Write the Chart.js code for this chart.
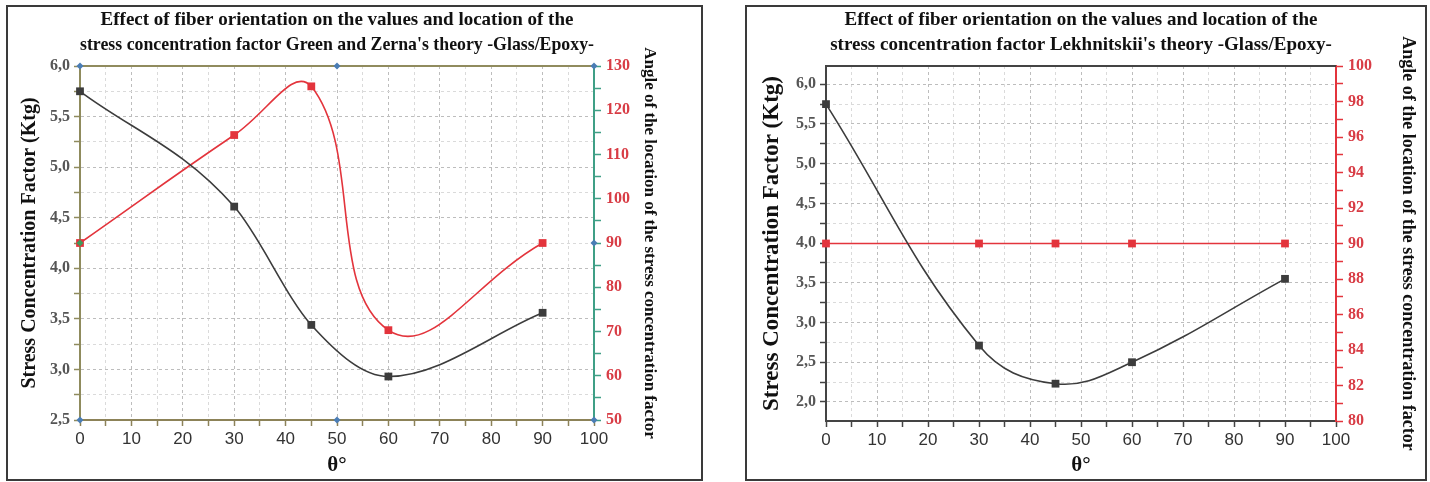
<!DOCTYPE html>
<html>
<head>
<meta charset="utf-8">
<script src="https://cdn.jsdelivr.net/npm/chart.js@4.4.1/dist/chart.umd.min.js"></script>
<style>
  body { margin: 0; background: #fff; width: 1430px; height: 482px; position: relative; overflow: hidden; }
  .frame { position: absolute; border: 2px solid #3a3a3a; box-sizing: border-box; }
  canvas { position: absolute; }
</style>
</head>
<body>
<div class="frame" style="left:6px;top:5px;width:697px;height:476px"></div>
<div class="frame" style="left:745px;top:5px;width:682px;height:476px"></div>
<canvas id="gz" width="692" height="471" style="left:8px;top:7px"></canvas>
<canvas id="lk" width="678" height="471" style="left:747px;top:7px"></canvas>
<script>
// fiber angle (deg)
const angles = [0, 30, 45, 60, 90]

// Green and Zerna
const gzKtg = [5.75, 4.61, 3.44, 2.93, 3.56]
const gzLoc = [90, 114.4, 125.4, 70.3, 90]

// Lekhnitskii
const lkKtg = [5.75, 2.71, 2.23, 2.50, 3.55]
const lkLoc = [90, 90, 90, 90, 90]

// the small diamonds Origin left on the axes of the first plot
const blueMarkX = [0, 50, 100, 0, 50, 100, 100]
const blueMarkY = [6.0, 6.0, 6.0, 2.5, 2.5, 2.5, 4.25]
const greenMarkX = [0]
const greenMarkY = [4.25]

const serif = 'Liberation Serif'
const sans = 'Liberation Sans'
const red = '#e3343c'
const redTxt = '#d83c45'
const dark = '#3c3c3c'

function pts(xs, ys) {
  return xs.map((x, i) => ({ x: x, y: ys[i] }))
}
function onStep(v, s) {
  return Math.abs(v / s - Math.round(v / s)) < 1e-6
}
function comma(v) {
  return v.toFixed(1).replace('.', ',')
}

const topLine = {
  id: 'topLine',
  beforeDatasetsDraw(chart, args, opts) {
    const ctx = chart.ctx
    const a = chart.chartArea
    ctx.save()
    ctx.strokeStyle = opts.color
    ctx.lineWidth = 2
    ctx.beginPath()
    ctx.moveTo(a.left, a.top)
    ctx.lineTo(a.right, a.top)
    ctx.stroke()
    ctx.restore()
  }
}

function xAxis(col, h) {
  return {
    type: 'linear', min: 0, max: 100,
    afterFit: s => { s.height = h },
    border: { color: col, width: 2, dash: [3, 3] },
    grid: {
      color: c => (c.tick.value == 0 || c.tick.value == 100) ? 'rgba(0,0,0,0)' : (c.tick.value % 10 == 0 ? '#bdbdbd' : '#dadada'),
      tickColor: col, tickLength: 6, tickWidth: 1.5
    },
    ticks: {
      stepSize: 5, autoSkip: false, maxRotation: 0, padding: 3, color: '#333',
      font: { family: sans, size: 17 },
      callback: v => v % 10 == 0 ? v : ''
    },
    title: { display: true, text: 'θ°', color: '#111', font: { family: serif, size: 21, weight: 'bold' }, padding: 0 }
  }
}

function leftAxis(min, max, col, w, titleSize, titlePad) {
  return {
    type: 'linear', position: 'left', min: min, max: max,
    afterFit: s => { s.width = w },
    border: { color: col, width: 2, dash: [3, 3] },
    grid: {
      color: c => !onStep(c.tick.value, 0.25) || c.tick.value == min || c.tick.value == max ? 'rgba(0,0,0,0)' : (onStep(c.tick.value, 0.5) ? '#bdbdbd' : '#dadada'),
      tickColor: c => onStep(c.tick.value, 0.25) ? col : 'rgba(0,0,0,0)',
      tickLength: 6, tickWidth: 1.5
    },
    ticks: {
      stepSize: 0.25, autoSkip: false, padding: 4, color: '#555',
      font: { family: serif, size: 16, weight: 'bold' },
      callback: v => onStep(v, 0.5) ? comma(v) : ''
    },
    title: {
      display: true, text: 'Stress Concentration Factor (Ktg)', color: '#111',
      font: { family: serif, size: titleSize, weight: 'bold' }, padding: { top: titlePad, bottom: 0 }
    }
  }
}

function rightAxis(min, max, step, major, col, w, titleSize, titlePad) {
  return {
    type: 'linear', position: 'right', min: min, max: max,
    afterFit: s => { s.width = w },
    border: { color: col, width: 2 },
    grid: { drawOnChartArea: false, tickColor: col, tickLength: 7, tickWidth: 1.5 },
    ticks: {
      stepSize: step, autoSkip: false, padding: 5, color: redTxt,
      font: { family: serif, size: 16, weight: 'bold' },
      callback: v => onStep(v, major) ? v : ''
    },
    title: {
      display: true, text: 'Angle of the location of the stress concentration factor', color: '#111',
      font: { family: serif, size: titleSize, weight: 'bold' }, padding: { top: titlePad, bottom: 0 }
    }
  }
}

function lineSet(data, col, axis, tension, mode) {
  return {
    data: data, yAxisID: axis, borderColor: col, backgroundColor: col,
    borderWidth: 1.6, tension: tension, cubicInterpolationMode: mode || 'default',
    pointStyle: 'rect', pointRadius: 5.5, pointBorderWidth: 0, clip: false
  }
}

function titleOpts(lines) {
  return {
    display: true, fullSize: false, text: lines, color: '#111',
    font: { family: serif, size: 19, weight: 'bold', lineHeight: 1.35 },
    padding: { top: 0, bottom: 7.7 }
  }
}

new Chart(document.getElementById('gz'), {
  type: 'line',
  data: {
    datasets: [
      { data: pts(blueMarkX, blueMarkY), yAxisID: 'y', showLine: false, pointStyle: 'rectRot', pointRadius: 3.5, backgroundColor: '#4a7db5', borderWidth: 0, clip: false },
      { data: pts(greenMarkX, greenMarkY), yAxisID: 'y', showLine: false, pointStyle: 'rectRot', pointRadius: 3.5, backgroundColor: '#3f9a5c', borderWidth: 0, clip: false },
      lineSet(pts(angles, gzKtg), dark, 'y', 0.4, 'monotone'),
      lineSet(pts(angles, gzLoc), red, 'y2', 0.45)
    ]
  },
  options: {
    responsive: false, animation: false, events: [],
    layout: { padding: 0 },
    plugins: {
      legend: { display: false }, tooltip: { enabled: false },
      title: titleOpts(['Effect of fiber orientation on the values and location of the', "stress concentration factor Green and Zerna's theory -Glass/Epoxy-"]),
      topLine: { color: '#908b5e' }
    },
    scales: {
      x: xAxis('#8c8258', 58),
      y: leftAxis(2.5, 6.0, '#8f8b5d', 72, 20, 10),
      y2: rightAxis(50, 130, 5, 10, '#3f9f86', 106, 17, 40)
    }
  },
  plugins: [topLine]
})

new Chart(document.getElementById('lk'), {
  type: 'line',
  data: {
    datasets: [
      lineSet(pts(angles, lkKtg), dark, 'y', 0.4),
      lineSet(pts(angles, lkLoc), red, 'y2', 0.4)
    ]
  },
  options: {
    responsive: false, animation: false, events: [],
    layout: { padding: 0 },
    plugins: {
      legend: { display: false }, tooltip: { enabled: false },
      title: titleOpts(['Effect of fiber orientation on the values and location of the', "stress concentration factor Lekhnitskii's theory -Glass/Epoxy-"]),
      topLine: { color: '#444' }
    },
    scales: {
      x: xAxis('#444', 57),
      y: leftAxis(1.76, 6.23, '#444', 79, 23, 11),
      y2: rightAxis(80, 100, 1, 2, red, 89, 18, 7)
    }
  },
  plugins: [topLine]
})
</script>
</body>
</html>
